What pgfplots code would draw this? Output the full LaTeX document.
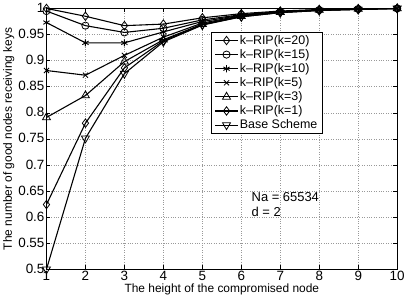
\documentclass[border=0pt]{standalone}
\usepackage{pgfplots}
\pgfplotsset{compat=1.18}
\usepackage{fontspec}
\setmainfont{Liberation Sans}
\usetikzlibrary{plotmarks}
\begin{document}
\begin{tikzpicture}[x=1bp,y=1bp]
\begin{axis}[
  scale only axis,
  width=351bp, height=261bp,
  xmin=1, xmax=10, ymin=0.5, ymax=1,
  xtick={1,...,10},
  ytick={0.5,0.55,0.6,0.65,0.7,0.75,0.8,0.85,0.9,0.95,1},
  yticklabels={0.5,0.55,0.6,0.65,0.7,0.75,0.8,0.85,0.9,0.95,1},
  /pgf/number format/assume math mode=true,
  tick align=inside,
  major tick length=4bp,
  tick style={black, line width=0.4pt},
  grid=major,
  grid style={dotted, gray!80, line width=0.5pt},
  axis line style={line width=0.9pt},
  ticklabel style={font=\fontsize{13.5}{14}\selectfont},
  xticklabel style={yshift=1.5bp},
  yticklabel style={xshift=1.5bp, yshift=0.5bp},
  xlabel={The height of the compromised node},
  ylabel={The number of good nodes receiving keys},
  label style={font=\fontsize{12}{13}\selectfont},
  xlabel style={yshift=3.5bp},
  ylabel style={yshift=-3bp},
  legend style={at={(axis cs:5.23,0.955)}, anchor=north west, font=\fontsize{12.5}{13}\selectfont, draw=black, line width=0.7pt, inner xsep=3pt, inner ysep=1.5pt, row sep=0.6pt, nodes={inner sep=1.5pt}},
  legend cell align=left,
  legend image code/.code={\draw[mark repeat=2,mark phase=2,#1] plot coordinates {(0cm,0cm) (0.4cm,0cm) (0.8cm,0cm)};},
  legend image post style={line width=1.1pt},
]
\addplot[black, line width=1.1pt, mark=diamond, mark size=4.2bp, mark options={solid, fill=white, line width=0.8pt}] coordinates {(1,1.0) (2,0.985) (3,0.967) (4,0.970) (5,0.982) (6,0.990) (7,0.995) (8,0.998) (9,0.999) (10,1.0)};
\addlegendentry{k\textendash RIP(k=20)}
\addplot[black, line width=1.1pt, mark=o, mark size=3.6bp, mark options={solid, fill=white, line width=0.8pt}] coordinates {(1,0.995) (2,0.967) (3,0.954) (4,0.962) (5,0.978) (6,0.988) (7,0.994) (8,0.997) (9,0.999) (10,1.0)};
\addlegendentry{k\textendash RIP(k=15)}
\addplot[black, line width=1.1pt, mark=asterisk, mark size=3.6bp, mark options={solid, line width=0.9pt}] coordinates {(1,0.973) (2,0.934) (3,0.934) (4,0.955) (5,0.975) (6,0.987) (7,0.994) (8,0.997) (9,0.999) (10,1.0)};
\addlegendentry{k\textendash RIP(k=10)}
\addplot[black, line width=1.1pt, mark=x, mark size=3.6bp, mark options={solid, line width=0.8pt}] coordinates {(1,0.881) (2,0.872) (3,0.910) (4,0.945) (5,0.972) (6,0.986) (7,0.993) (8,0.997) (9,0.999) (10,1.0)};
\addlegendentry{k\textendash RIP(k=5)}
\addplot[black, line width=1.1pt, mark=triangle, mark size=4.6bp, mark options={solid, fill=white, line width=0.8pt}] coordinates {(1,0.791) (2,0.833) (3,0.898) (4,0.940) (5,0.970) (6,0.985) (7,0.993) (8,0.997) (9,0.999) (10,1.0)};
\addlegendentry{k\textendash RIP(k=3)}
\addplot[black, line width=1.1pt, mark=diamond, mark size=4.2bp, mark options={solid, fill=white, line width=0.8pt}] coordinates {(1,0.624) (2,0.780) (3,0.886) (4,0.938) (5,0.969) (6,0.984) (7,0.992) (8,0.996) (9,0.998) (10,1.0)};
\addlegendentry{k\textendash RIP(k=1)}
\addplot[black, line width=1.1pt, mark=triangle, mark size=4.6bp, mark options={solid, fill=white, line width=0.8pt, rotate=180}] coordinates {(1,0.5) (2,0.751) (3,0.875) (4,0.936) (5,0.968) (6,0.984) (7,0.992) (8,0.996) (9,0.998) (10,1.0)};
\addlegendentry{Base Scheme}
\node[anchor=west, align=left, font=\fontsize{13}{15}\selectfont, inner sep=0pt] at (axis cs:6.26,0.624) {Na = 65534\\d = 2};
\end{axis}
\end{tikzpicture}
\end{document}
